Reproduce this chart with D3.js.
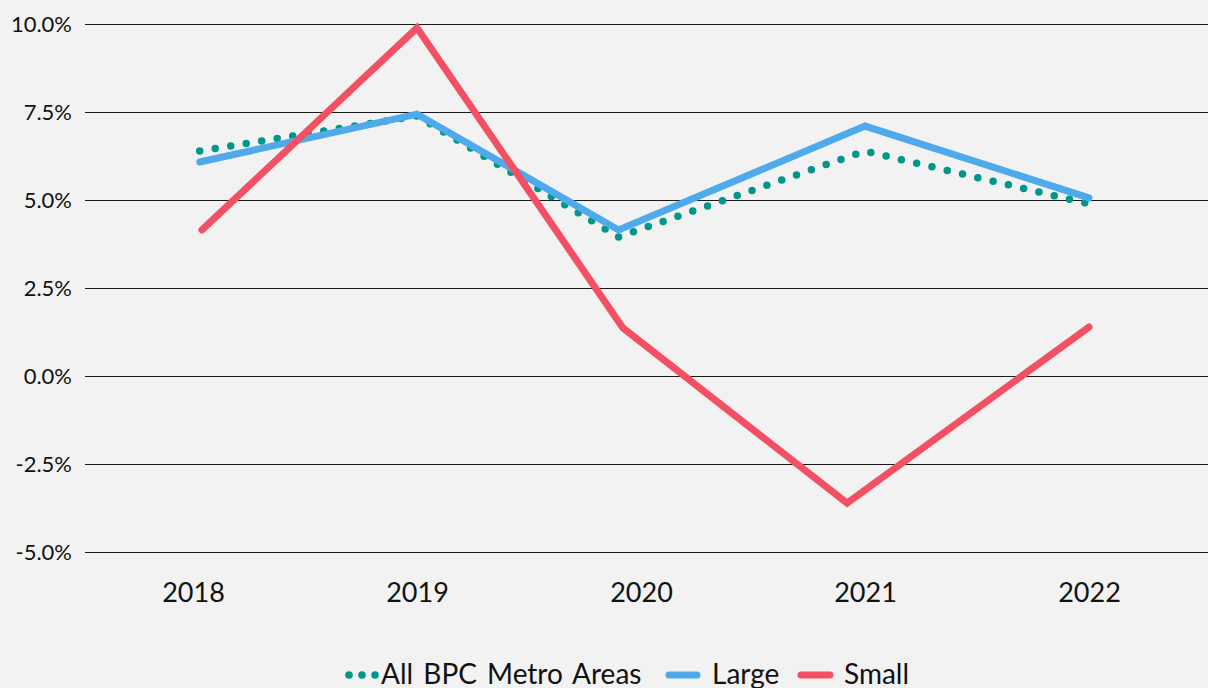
<!DOCTYPE html>
<html><head><meta charset="utf-8">
<script src="https://cdn.jsdelivr.net/npm/d3@7"></script>
<style>
html,body{margin:0;padding:0;background:#f2f2f2;}
svg{display:block;font-family:Lato,"Open Sans",sans-serif;}
</style></head>
<body><svg id="chart" width="1208" height="688"></svg>
<script>
// Data (values in %, x positions as fractional years as they sit in the picture)
const years = [2018, 2019, 2020, 2021, 2022];
const yTicks = [-5, -2.5, 0, 2.5, 5, 7.5, 10];
const allX   = [2018.03, 2019, 2019.9, 2021, 2022];
const allY   = [6.39, 7.39, 3.95, 6.39, 4.89];
const largeX = [2018.03, 2019, 2019.9, 2021, 2022];
const largeY = [6.08, 7.44, 4.15, 7.10, 5.06];
const smallX = [2018.04, 2019, 2019.92, 2020.92, 2022];
const smallY = [4.15, 9.89, 1.36, -3.61, 1.39];
const seriesNames = ["All BPC Metro Areas", "Large", "Small"];

const svg = d3.select("#chart");
const x = d3.scaleLinear().domain([2018, 2022]).range([193, 1089]);
const y = d3.scaleLinear().domain([-5, 10]).range([552, 24]);

// gridlines + y labels
const yAxis = d3.axisLeft(y).tickValues(yTicks).tickSize(0).tickPadding(13)
  .tickFormat(d => d.toFixed(1) + "%");
const ga = svg.append("g").attr("transform", "translate(85,0)").call(yAxis);
ga.select(".domain").remove();
ga.selectAll("text").attr("font-size", 22).attr("fill", "#111").attr("font-family", "Lato");
svg.append("g").selectAll("line").data(yTicks).join("line")
  .attr("x1", 85).attr("x2", 1208)
  .attr("y1", d => Math.round(y(d)) + 0.5).attr("y2", d => Math.round(y(d)) + 0.5)
  .attr("stroke", "#1a1a1a").attr("stroke-width", 1);

// x labels
const xAxis = d3.axisBottom(x).tickValues(years).tickSize(0).tickFormat(d3.format("d"));
const gx = svg.append("g").attr("transform", "translate(0,576)").call(xAxis);
gx.select(".domain").remove();
gx.selectAll("text").attr("font-size", 27).attr("fill", "#111").attr("font-family", "Lato")
  .attr("dy", "0.96em").attr("y", 0);

const line = d3.line().x(d => x(d[0])).y(d => y(d[1]));
const colors = {all: "#00968a", large: "#4eaaea", small: "#f45064"};

svg.append("path").datum(d3.zip(allX, allY)).attr("d", line)
  .attr("fill", "none").attr("stroke", colors.all).attr("stroke-width", 7.5)
  .attr("stroke-linecap", "round").attr("stroke-dasharray", "0 15.7");
svg.append("path").datum(d3.zip(largeX, largeY)).attr("d", line)
  .attr("fill", "none").attr("stroke", colors.large).attr("stroke-width", 7)
  .attr("stroke-linecap", "round").attr("stroke-linejoin", "miter");
svg.append("path").datum(d3.zip(smallX, smallY)).attr("d", line)
  .attr("fill", "none").attr("stroke", colors.small).attr("stroke-width", 7)
  .attr("stroke-linecap", "round").attr("stroke-linejoin", "miter");

// legend
const lg = svg.append("g").attr("font-size", 28).attr("fill", "#111").attr("word-spacing", 3);
const ly = 675;
lg.selectAll("circle.lgd").data([349, 362, 375]).join("circle")
  .attr("cx", d => d).attr("cy", ly).attr("r", 3.8).attr("fill", colors.all);
lg.append("text").attr("x", 381).attr("y", 684).text(seriesNames[0]);
lg.append("line").attr("x1", 669).attr("x2", 697).attr("y1", ly).attr("y2", ly)
  .attr("stroke", colors.large).attr("stroke-width", 7).attr("stroke-linecap", "round");
lg.append("text").attr("x", 712).attr("y", 684).text(seriesNames[1]);
lg.append("line").attr("x1", 801).attr("x2", 830).attr("y1", ly).attr("y2", ly)
  .attr("stroke", colors.small).attr("stroke-width", 7).attr("stroke-linecap", "round");
lg.append("text").attr("x", 844).attr("y", 684).text(seriesNames[2]);
</script></body></html>
